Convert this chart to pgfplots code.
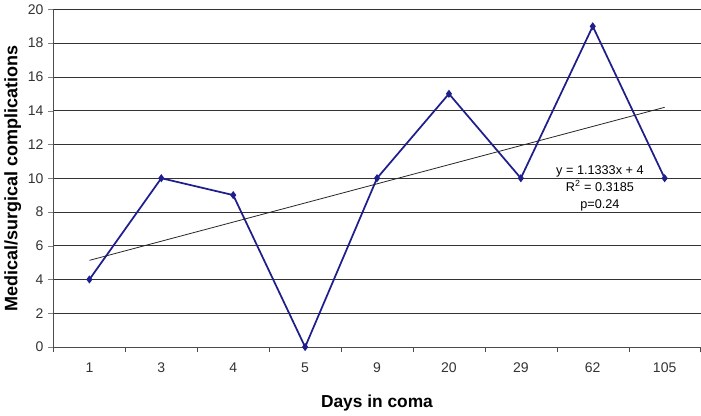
\documentclass[border=0pt]{standalone}
\usepackage{pgfplots}
\pgfplotsset{compat=1.18}
\usepackage{fontspec}
\setmainfont{Liberation Sans}
\definecolor{navyline}{RGB}{30,30,140}
\begin{document}
\begin{tikzpicture}
\begin{axis}[
  scale only axis,
  width=485pt, height=253pt,
  xmin=0.5, xmax=9.5, ymin=0, ymax=20,
  axis x line*=bottom, axis y line*=left,
  axis line style={-, black!70},
  xtick={1,...,9},
  xticklabels={1,3,4,5,9,20,29,62,105},
  major x tick style={draw=none},
  minor xtick={0.5,1.5,...,9.5},
  minor x tick style={black!70},
  ytick={0,2,...,20},
  ymajorgrids, major grid style={black!80, line width=0.6pt},
  tick align=outside,
  major tick length=4pt, minor tick length=4pt,
  tick label style={font=\fontsize{10.5}{12}\selectfont, text=black!80},
  /pgf/number format/assume math mode=true,
  xticklabel style={yshift=-4pt},
  xlabel={\textbf{Days in coma}},
  ylabel={\textbf{Medical/surgical complications}},
  xlabel style={font=\fontsize{13}{15}\selectfont, yshift=-10pt},
  ylabel style={font=\fontsize{13.5}{15}\selectfont, yshift=-2pt},
]
\addplot[navyline, line width=1.3pt, mark=diamond*, mark size=2pt] coordinates {
  (1,4) (2,10) (3,9) (4,0) (5,10) (6,15) (7,10) (8,19) (9,10)};
\addplot[black!85, line width=0.6pt] coordinates {(1,5.1333) (9,14.1997)};
\node[font=\fontsize{9.5}{12.5}\selectfont, align=center, inner sep=0pt] at (axis cs:8.1,9.4)
  {y = 1.1333x + 4\\ R\textsuperscript{2} = 0.3185\\ p=0.24};
\end{axis}
\end{tikzpicture}
\end{document}
